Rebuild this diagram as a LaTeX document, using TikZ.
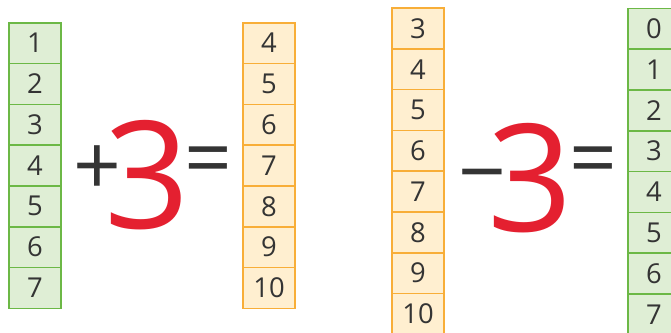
\documentclass[tikz,border=0pt]{standalone}
\usepackage{fontspec}
\setmainfont{Open Sans}
\definecolor{greenfill}{RGB}{223,238,213}
\definecolor{greenline}{RGB}{108,184,70}
\definecolor{orangefill}{RGB}{255,239,208}
\definecolor{orangeline}{RGB}{248,174,56}
\definecolor{bigred}{RGB}{228,32,48}
\definecolor{signgray}{RGB}{52,52,52}
\begin{document}
\begin{tikzpicture}[
    x=1bp, y=-1bp,
    cell/.style={rectangle, minimum width=52bp, minimum height=40.8bp,
      inner sep=0pt, outer sep=0pt, text=signgray, font=\fontsize{27.5}{27.5}\selectfont},
    greencell/.style={cell, fill=greenfill},
    orangecell/.style={cell, fill=orangefill},
    frame/.style={line width=1.6bp},
    sign/.style={inner sep=0pt, text=signgray, font=\fontsize{84}{84}\selectfont},
    bignum/.style={inner sep=0pt, text=bigred, font=\fontsize{150}{150}\selectfont}
]
\useasboundingbox (0,0) rectangle (671,332);
\clip (0,0) rectangle (671,332);

% Columns
\foreach \n in {1,...,7}
  \node[greencell] (ga\n) at (35,{22.7+(\n-0.5)*40.8}) {\n};
\foreach \n [evaluate=\n as \v using int(\n+3)] in {1,...,7}
  \node[orangecell] (oa\n) at (269,{22.7+(\n-0.5)*40.8}) {\v};
\foreach \n [evaluate=\n as \v using int(\n+2)] in {1,...,8}
  \node[orangecell] (ob\n) at (418,{8+(\n-0.5)*40.8}) {\v};
\foreach \n [evaluate=\n as \v using int(\n-1)] in {1,...,8}
  \node[greencell] (gb\n) at (654,{8.3+(\n-0.5)*40.8}) {\v};

% Cell frames
\foreach \n in {1,...,7} {
  \draw[frame, greenline] (ga\n.north west) rectangle (ga\n.south east);
  \draw[frame, orangeline] (oa\n.north west) rectangle (oa\n.south east);
}
\foreach \n in {1,...,8} {
  \draw[frame, orangeline] (ob\n.north west) rectangle (ob\n.south east);
  \draw[frame, greenline] (gb\n.north west) rectangle (gb\n.south east);
}

% Signs
\node[sign] (plus) at (97,171) {+};
\node[bignum] (three) at (147.5,175) {3};
\node[sign] (eqa) at (208.5,167) {=};
\node[sign] (minus) at (482,185) {−};
\node[bignum] (threeb) at (530,178) {3};
\node[sign] (eqb) at (593,167.5) {=};

\end{tikzpicture}
\end{document}
